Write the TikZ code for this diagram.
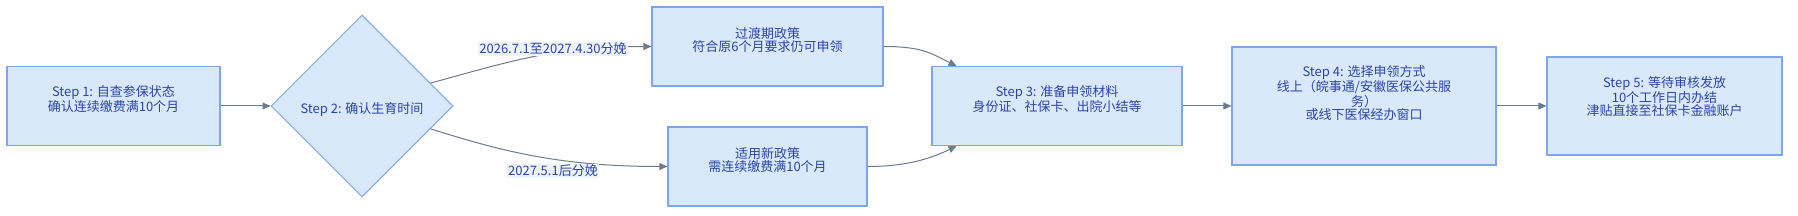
\documentclass[tikz,border=0pt]{standalone}
\usepackage{fontspec}
\setmainfont{Noto Sans CJK SC}
\usetikzlibrary{arrows.meta,positioning,calc,shapes.geometric}
\definecolor{cfill}{HTML}{DAE8FC}
\definecolor{cline}{HTML}{7EA6E8}
\definecolor{ctext}{HTML}{2B45A6}
\definecolor{carrow}{HTML}{6C7A8C}
\definecolor{clbl}{HTML}{EEF2F9}

\begin{document}
\begin{tikzpicture}[
  x=1pt,y=-1pt,>={Triangle[length=8pt,width=7pt]},
  box/.style={rectangle,draw=cline,fill=cfill,line width=1.2pt,inner sep=0pt},
  dia/.style={diamond,aspect=1,draw=cline,fill=cfill,line width=1pt,inner sep=0pt,minimum size=182pt},
  txt/.style={font=\fontsize{13}{13.3}\selectfont,text=ctext,align=center,inner sep=0pt},
  edge/.style={->,carrow,line width=1pt},
  elabel/.style={txt,fill=clbl,inner sep=1pt}
]
  \useasboundingbox (0,0) rectangle (1798,216);

  % Boxes
  \node[box,minimum width=213pt,minimum height=79pt]  (s1)    at (113.5,106) {};
  \node[dia]                                          (s2)    at (362,106)   {};
  \node[box,minimum width=231pt,minimum height=79pt]  (trans) at (767.5,46.5) {};
  \node[box,minimum width=199pt,minimum height=79pt]  (newp)  at (767.5,166.5) {};
  \node[box,minimum width=250pt,minimum height=79pt]  (s3)    at (1057,106)  {};
  \node[box,minimum width=264pt,minimum height=118pt] (s4)    at (1364,106)  {};
  \node[box,minimum width=235pt,minimum height=98pt]  (s5)    at (1664.5,106) {};

  % Texts
  \node[txt] (s1t)    at ([yshift=6.5pt]s1.center)    {Step 1: 自查参保状态\\确认连续缴费满10个月};
  \node[txt] (s2t)    at ([yshift=-3pt]s2.center)     {Step 2: 确认生育时间};
  \node[txt] (transt) at ([yshift=6.5pt]trans.center) {过渡期政策\\符合原6个月要求仍可申领};
  \node[txt] (newpt)  at ([yshift=6.5pt]newp.center)  {适用新政策\\需连续缴费满10个月};
  \node[txt] (s3t)    at ([yshift=6.5pt]s3.center)    {Step 3: 准备申领材料\\身份证、社保卡、出院小结等};
  \node[txt] (s4t)    at ([yshift=13pt]s4.center)     {Step 4: 选择申领方式\\线上（皖事通/安徽医保公共服\\务）\\或线下医保经办窗口};
  \node[txt,font=\fontsize{13}{12.4}\selectfont] (s5t) at ([yshift=9.5pt]s5.center) {Step 5: 等待审核发放\\10个工作日内办结\\津贴直接至社保卡金融账户};

  % Attach points
  \coordinate (s2ne) at ($(s2.east)!0.25!(s2.north)$);
  \coordinate (s2se) at ($(s2.east)!0.25!(s2.south)$);
  \coordinate (s3a)  at ($(s3.north west)!0.1!(s3.north east)$);
  \coordinate (s3b)  at ($(s3.south west)!0.1!(s3.south east)$);

  % Straight arrows
  \draw[edge] (s1.east) -- (s2.west);
  \draw[edge] (s3.east) -- (s4.west);
  \draw[edge] (s4.east) -- (s5.west);

  % Curved arrows
  \draw[edge] (s2ne) .. controls +(90,-25) and +(-92,0) .. (trans.west);
  \draw[edge] (s2se) .. controls +(70,22) and +(-108,0) .. (newp.west);
  \draw[edge] (trans.east) .. controls +(40,0) and +(-25,-12) .. (s3a);
  \draw[edge] (newp.east) .. controls +(40,0) and +(-25,12) .. (s3b);

  % Edge labels
  \node[elabel] (ltop) at (553,49)  {2026.7.1至2027.4.30分娩};
  \node[elabel] (lbot) at (553,171) {2027.5.1后分娩};
\end{tikzpicture}
\end{document}
